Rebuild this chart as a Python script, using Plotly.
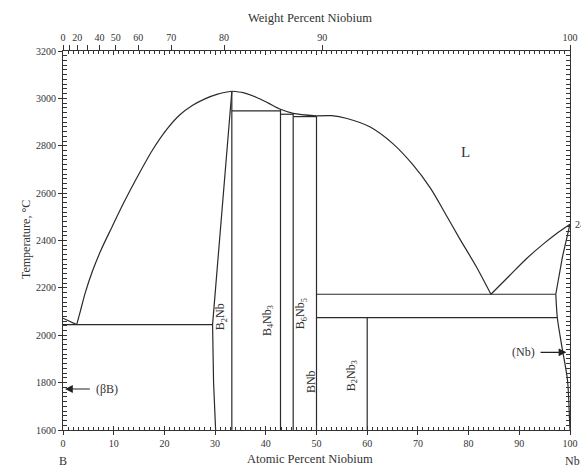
import plotly.graph_objects as go

# ---------------- data ----------------
# B-rich liquidus (B melting point down to the B-rich eutectic)
liq_b_x = [0.0, 2.7]
liq_b_T = [2072, 2045]
# liquidus from eutectic up to B2Nb congruent maximum
liq_b2nb_x = [2.7, 3.4, 4.4, 5.8, 7.5, 9.5, 12.0, 14.7, 17.6, 20.5, 23.0, 25.5, 28.0, 30.5, 33.3]
liq_b2nb_T = [2045, 2100, 2180, 2270, 2360, 2450, 2560, 2670, 2780, 2870, 2930, 2970, 2998, 3018, 3030]
# liquidus from B2Nb maximum across peritectics to BNb
liq_mid_x = [33.3, 35.5, 38.2, 40.5, 42.9, 45.4, 50.0]
liq_mid_T = [3030, 3024, 3004, 2980, 2954, 2937, 2926]
# liquidus from BNb down to the Nb-rich eutectic
liq_bnb_x = [50.0, 53.0, 56.0, 60.5, 65.0, 69.0, 72.5, 75.5, 78.2, 81.5, 84.4]
liq_bnb_T = [2926, 2927, 2915, 2880, 2810, 2720, 2620, 2510, 2409, 2290, 2173]
# liquidus from eutectic up to Nb melting point
liq_nb_x = [84.4, 88.0, 91.5, 95.0, 97.5, 100.0]
liq_nb_T = [2173, 2250, 2325, 2390, 2432, 2469]
# (Nb) solidus and solvus
sol_nb_x = [100.0, 98.5, 97.2]
sol_nb_T = [2469, 2330, 2173]
solvus_nb_x = [97.2, 97.5, 98.4, 99.5, 99.9, 100.0]
solvus_nb_T = [2173, 2074, 1952, 1811, 1650, 1600]
# B2Nb homogeneity range, B-rich boundary
b2nb_left_x = [33.3, 31.85, 29.5, 29.7, 30.1]
b2nb_left_T = [3030, 2655, 2045, 1800, 1600]

# compound lines (composition, upper temperature)
compound_x = [33.3, 42.9, 45.4, 50.0, 60.0]
compound_top_T = [3030, 2954, 2937, 2926, 2074]

# isotherms (x start, x end, temperature)
iso_x0 = [0.0, 33.3, 42.9, 45.4, 50.0, 50.0]
iso_x1 = [29.5, 42.9, 45.4, 50.0, 97.2, 97.5]
iso_T = [2045, 2947, 2933, 2923, 2173, 2074]

T_min, T_max = 1600, 3200

# phase labels
phase_labels = ["B<sub>2</sub>Nb", "B<sub>4</sub>Nb<sub>3</sub>", "B<sub>6</sub>Nb<sub>5</sub>",
                "BNb", "B<sub>2</sub>Nb<sub>3</sub>"]
phase_label_x = [31.1, 40.3, 47.0, 48.8, 56.9]
phase_label_T = [2079, 2061, 2090, 1804, 1829]

# axis ticks
at_ticks = list(range(0, 101, 10))
T_ticks = list(range(1600, 3201, 200))
wt_ticks = [0, 20, 40, 50, 60, 70, 80, 90, 100]
wt_labels = ["0", "20", "40", "50", "60", "70", "80", "90", "100"]
wt_unlabeled = [10, 30]

M_NB, M_B = 92.906, 10.81


def wt_to_at(w):
    if w >= 100:
        return 100.0
    a = w / M_NB
    b = (100 - w) / M_B
    return 100 * a / (a + b)


wt_pos = [wt_to_at(w) for w in wt_ticks]
wt_minor_pos = [wt_to_at(w) for w in wt_unlabeled]

LINE = dict(color="#2a2a2a", width=1.2)
FONT = "Liberation Serif, Times New Roman, serif"
TXT = "#333333"

fig = go.Figure()


def add_line(xs, ys, smooth=False):
    line = dict(LINE)
    if smooth:
        line.update(shape="spline", smoothing=0.8)
    fig.add_trace(go.Scatter(x=xs, y=ys, mode="lines", line=line,
                             hoverinfo="skip", showlegend=False))


add_line(liq_b_x, liq_b_T)
for xs, ys in [(liq_b2nb_x, liq_b2nb_T), (liq_mid_x, liq_mid_T), (liq_bnb_x, liq_bnb_T),
               (liq_nb_x, liq_nb_T), (solvus_nb_x, solvus_nb_T)]:
    add_line(xs, ys, smooth=True)
add_line(sol_nb_x, sol_nb_T)
add_line(b2nb_left_x, b2nb_left_T)

for cx, ct in zip(compound_x, compound_top_T):
    add_line([cx, cx], [ct, T_min])

for x0, x1, t in zip(iso_x0, iso_x1, iso_T):
    add_line([x0, x1], [t, t])

# dummy traces so overlay axes are drawn
fig.add_trace(go.Scatter(x=[None], y=[None], xaxis="x2", yaxis="y2", showlegend=False))
fig.add_trace(go.Scatter(x=[None], y=[None], xaxis="x3", yaxis="y2", showlegend=False))

annotations = []
for lab, lx, lt in zip(phase_labels, phase_label_x, phase_label_T):
    annotations.append(dict(x=lx, y=lt, xref="x", yref="y", text=lab, showarrow=False,
                            textangle=-90, font=dict(family=FONT, size=12, color=TXT)))

annotations += [
    dict(x=79.3, y=2774, xref="x", yref="y", text="L", showarrow=False,
         font=dict(family=FONT, size=15, color=TXT)),
    # (βB) arrow
    dict(x=0.4, y=1773, ax=5.6, ay=1773, xref="x", yref="y", axref="x", ayref="y",
         text="", showarrow=True, arrowhead=2, arrowsize=1.3, arrowwidth=1.2,
         arrowcolor="#222"),
    dict(x=6.2, y=1773, xref="x", yref="y", text="(βB)", showarrow=False,
         xanchor="left", font=dict(family=FONT, size=12, color=TXT)),
    # (Nb) arrow
    dict(x=99.3, y=1928, ax=93.9, ay=1928, xref="x", yref="y", axref="x", ayref="y",
         text="", showarrow=True, arrowhead=2, arrowsize=1.3, arrowwidth=1.2,
         arrowcolor="#222"),
    dict(x=93.4, y=1928, xref="x", yref="y", text="(Nb)", showarrow=False,
         xanchor="right", font=dict(family=FONT, size=12, color=TXT)),
    # axis titles
    dict(x=48.7, y=1, xref="x", yref="paper", yshift=33, text="Weight Percent Niobium",
         showarrow=False, yanchor="middle", font=dict(family=FONT, size=12.5, color=TXT)),
    dict(x=48.7, y=0, xref="x", yref="paper", yshift=-29, text="Atomic Percent Niobium",
         showarrow=False, yanchor="middle", font=dict(family=FONT, size=12.5, color=TXT)),
    dict(x=0, y=2402, xref="paper", yref="y", xshift=-46, text="Temperature, °C",
         showarrow=False, textangle=-90, font=dict(family=FONT, size=12, color=TXT)),
    dict(x=0, y=0, xref="x", yref="paper", yshift=-31, text="B", showarrow=False,
         yanchor="middle", font=dict(family=FONT, size=12, color=TXT)),
    dict(x=100, y=0, xref="x", yref="paper", yshift=-31, xshift=2, text="Nb",
         showarrow=False, yanchor="middle", font=dict(family=FONT, size=12, color=TXT)),
    dict(x=100, y=2469, xref="x", yref="y", xshift=3, text="2469", showarrow=False,
         xanchor="left", font=dict(family=FONT, size=10, color=TXT)),
]

tickfont = dict(family=FONT, size=10, color=TXT)

fig.update_layout(
    width=581, height=468,
    margin=dict(l=63, r=11, t=51, b=38, autoexpand=False),
    paper_bgcolor="white", plot_bgcolor="white",
    showlegend=False,
    annotations=annotations,
    xaxis=dict(range=[0, 100], tickmode="array", tickvals=at_ticks, ticks="outside",
               ticklen=4, tickcolor="#333", showline=True, linecolor="#333", linewidth=1.2,
               mirror=True, showgrid=False, zeroline=False, tickfont=tickfont,
               automargin=False),
    xaxis2=dict(range=[0, 100], overlaying="x", side="top", anchor="y", tickmode="array",
                tickvals=wt_pos, ticktext=wt_labels, ticks="outside", ticklen=5,
                tickcolor="#333", showline=False, showgrid=False, zeroline=False,
                tickfont=tickfont, automargin=False,
                minor=dict(tickmode="array", tickvals=wt_minor_pos, ticks="outside",
                           ticklen=5, tickcolor="#333", showgrid=False)),
    xaxis3=dict(range=[0, 100], overlaying="x", side="bottom", anchor="y",
                tickmode="array", tickvals=at_ticks, ticks="inside", ticklen=4,
                tickcolor="#333", showticklabels=False, showline=True, linecolor="#333",
                linewidth=1.2, mirror="allticks", showgrid=False, zeroline=False,
                automargin=False,
                minor=dict(ticks="inside", dtick=1, tick0=0, ticklen=2.5,
                           tickcolor="#333", showgrid=False)),
    yaxis=dict(range=[T_min, T_max], tickmode="array", tickvals=T_ticks, ticks="outside",
               ticklen=4, tickcolor="#333", showline=True, linecolor="#333", linewidth=1.2,
               mirror=True, showgrid=False, zeroline=False, tickfont=tickfont,
               automargin=False),
    yaxis2=dict(range=[T_min, T_max], overlaying="y", side="left", anchor="x",
                tickmode="array", tickvals=T_ticks, ticks="inside", ticklen=4,
                tickcolor="#333", showticklabels=False, showline=True, linecolor="#333",
                linewidth=1.2, mirror="allticks", showgrid=False, zeroline=False,
                automargin=False,
                minor=dict(ticks="inside", dtick=20, tick0=1600, ticklen=2.5,
                           tickcolor="#333", showgrid=False)),
)

fig.write_html("out.html")
